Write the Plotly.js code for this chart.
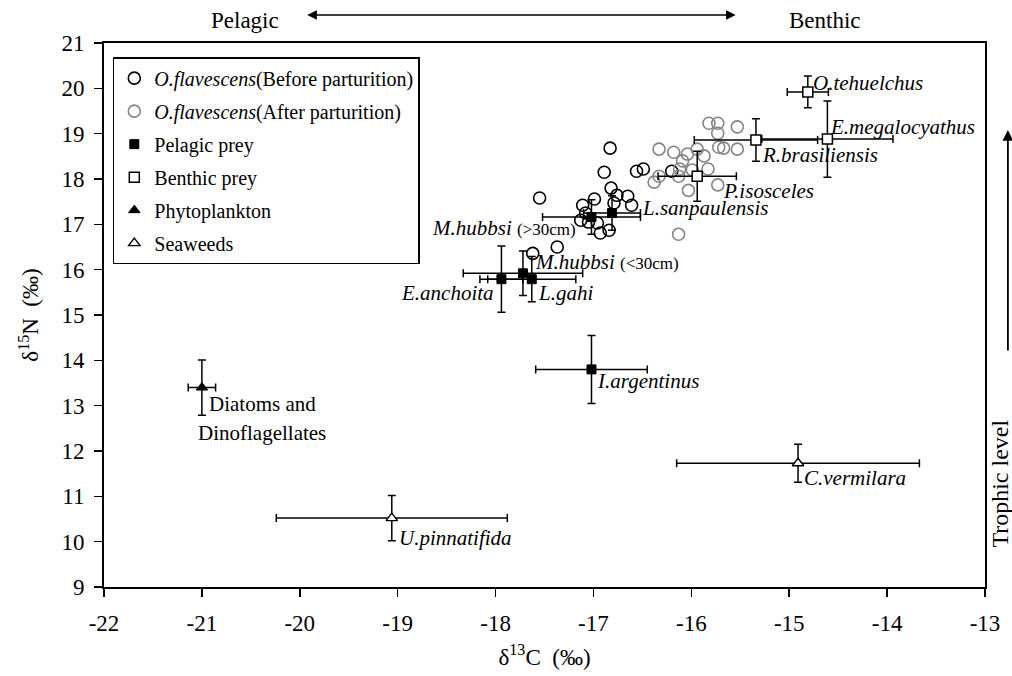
<!DOCTYPE html>
<html>
<head>
<meta charset="utf-8">
<script src="https://cdn.plot.ly/plotly-3.0.1.min.js"></script>
<style>html,body{margin:0;padding:0;background:#fff;}#chart{width:1012px;height:676px;}</style>
</head>
<body>
<div id="chart"></div>
<script>
// ---- data ----
var beforeX = [-16.83,-16.89,-16.56,-16.49,-16.20,-17.55,-16.82,-16.76,-16.65,-16.61,-17.11,-16.99,-16.79,-17.08,-17.13,-17.05,-16.96,-16.93,-16.84,-17.37,-17.62];
var beforeY = [18.68,18.15,18.17,18.22,18.17,17.58,17.80,17.64,17.62,17.42,17.42,17.56,17.47,17.25,17.09,17.05,17.03,16.81,16.87,16.50,16.36];

var afterX = [-15.82,-15.73,-15.73,-15.53,-15.72,-15.67,-15.53,-16.33,-16.18,-16.04,-16.09,-15.94,-15.87,-15.83,-15.99,-16.38,-16.33,-16.13,-16.12,-16.03,-15.73,-16.13];
var afterY = [19.23,19.23,19.01,19.15,18.70,18.68,18.66,18.66,18.59,18.55,18.40,18.66,18.51,18.22,18.20,17.93,18.06,18.06,18.22,17.75,17.87,16.78];

var pelagicNames = ["M.hubbsi (>30cm)","L.sanpaulensis","M.hubbsi (<30cm)","E.anchoita","L.gahi","I.argentinus"];
var pelagicX     = [-17.02,-16.81,-17.72,-17.94,-17.63,-17.02];
var pelagicY     = [17.16,17.25,15.92,15.79,15.79,13.80];
var pelagicXerr  = [0.50,0.29,0.61,0.22,0.45,0.57];
var pelagicYerr  = [0.38,0.38,0.49,0.73,0.50,0.75];

var benthicNames = ["O.tehuelchus","E.megalocyathus","R.brasiliensis","P.isosceles"];
var benthicX     = [-14.81,-14.61,-15.34,-15.94];
var benthicY     = [19.92,18.88,18.86,18.06];
var benthicXerr  = [0.21,0.67,0.63,0.40];
var benthicYerr  = [0.35,0.84,0.47,0.55];

var phytoNames = ["Diatoms and", "Dinoflagellates"];
var phytoX     = [-21.00];
var phytoY     = [13.40];
var phytoXerr  = [0.14];
var phytoYerr  = [0.61];

var seaweedNames = ["U.pinnatifida","C.vermilara"];
var seaweedX     = [-19.06,-14.91];
var seaweedY     = [10.52,11.73];
var seaweedXerr  = [1.18,1.24];
var seaweedYerr  = [0.50,0.42];

var xTickVals = [-22,-21,-20,-19,-18,-17,-16,-15,-14,-13];
var xTickText = ["-22","-21","-20","-19","-18","-17","-16","-15","-14","-13"];
var yTickVals = [9,10,11,12,13,14,15,16,17,18,19,20,21];

var legendNames = ["<i>O.flavescens</i>(Before parturition)","<i>O.flavescens</i>(After parturition)","Pelagic prey","Benthic prey","Phytoplankton","Seaweeds"];

// ---- chart ----
var FONT = "Liberation Serif";
function eb(arr){ return {type:'data', array:arr, visible:true, color:'#000', thickness:1.5, width:4}; }

var traces = [
  {x:beforeX, y:beforeY, type:'scatter', mode:'markers', name:legendNames[0], legendgroup:'a',
   marker:{symbol:'circle-open', size:12, color:'#000', line:{width:1.6, color:'#000'}}},
  {x:afterX, y:afterY, type:'scatter', mode:'markers', name:legendNames[1], legendgroup:'b',
   marker:{symbol:'circle-open', size:12, color:'#858585', line:{width:1.6, color:'#858585'}}},
  {x:pelagicX, y:pelagicY, type:'scatter', mode:'markers', name:legendNames[2], legendgroup:'c',
   error_x:eb(pelagicXerr), error_y:eb(pelagicYerr),
   marker:{symbol:'square', size:9, color:'#000', line:{width:1, color:'#000'}}},
  {x:benthicX, y:benthicY, type:'scatter', mode:'markers', name:legendNames[3], legendgroup:'d',
   error_x:eb(benthicXerr), error_y:eb(benthicYerr),
   marker:{symbol:'square', size:10, color:'#fff', line:{width:1.5, color:'#000'}}},
  {x:phytoX, y:phytoY, type:'scatter', mode:'markers', name:legendNames[4], legendgroup:'e',
   error_x:eb(phytoXerr), error_y:eb(phytoYerr),
   marker:{symbol:'triangle-up', size:10, color:'#000', line:{width:1, color:'#000'}}},
  {x:seaweedX, y:seaweedY, type:'scatter', mode:'markers', name:legendNames[5], legendgroup:'f',
   error_x:eb(seaweedXerr), error_y:eb(seaweedYerr),
   marker:{symbol:'triangle-up', size:10, color:'#fff', line:{width:1.4, color:'#000'}}}
];

// label annotations anchored to data points with pixel offsets
var ann = [];
function lab(text, x, y, xanchor, dx, dy, italic){
  ann.push({x:x, y:y, xref:'x', yref:'y', text: italic ? '<i>'+text+'</i>' : text, showarrow:false,
    xanchor:xanchor, yanchor:'middle', xshift:dx, yshift:dy,
    font:{family:FONT, size:21, color:'#000'}});
}
var pOff = [['right',-13,-11],['left',28,5],['left',10,11],['right',-5,-14],['left',4,-14],['left',4,-12]];
for (var i=0;i<pelagicNames.length;i++){
  var nm = pelagicNames[i];
  var t;
  if (nm.indexOf('(')>=0){
    var parts = nm.split(' ');
    t = '<i>'+parts[0]+'</i> <span style="font-size:17px">'+parts[1].replace('>','&gt;').replace('<','&lt;')+'</span>';
  } else { t = '<i>'+nm+'</i>'; }
  ann.push({x:pelagicX[i], y:pelagicY[i], xref:'x', yref:'y', text:t, showarrow:false,
    xanchor:pOff[i][0], yanchor:'middle', xshift:pOff[i][1], yshift:pOff[i][2],
    font:{family:FONT, size:21, color:'#000'}});
}
var bOff = [['left',3,9],['left',1,12],['left',4,-15],['left',24,-15]];
for (var j=0;j<benthicNames.length;j++) lab(benthicNames[j], benthicX[j], benthicY[j], bOff[j][0], bOff[j][1], bOff[j][2], true);
lab(phytoNames[0], phytoX[0], phytoY[0], 'left', 5, -16, false);
lab(phytoNames[1], phytoX[0], phytoY[0], 'left', -6, -45, false);
var sOff = [['left',5,-20],['left',4,-15]];
for (var k=0;k<seaweedNames.length;k++) lab(seaweedNames[k], seaweedX[k], seaweedY[k], sOff[k][0], sOff[k][1], sOff[k][2], true);

// outer annotations
ann.push({xref:'paper', yref:'paper', x:0.16, y:1.042, text:'Pelagic', showarrow:false, xanchor:'center', yanchor:'middle', font:{family:FONT, size:23, color:'#000'}});
ann.push({xref:'paper', yref:'paper', x:0.818, y:1.042, text:'Benthic', showarrow:false, xanchor:'center', yanchor:'middle', font:{family:FONT, size:23, color:'#000'}});
ann.push({xref:'paper', yref:'paper', x:0.717, y:1.0515, axref:'paper', ayref:'paper', ax:0.229, ay:1.0515, text:'', showarrow:true,
  arrowhead:2, startarrowhead:2, arrowside:'end+start', arrowsize:1.2, arrowwidth:1.6, arrowcolor:'#000'});
ann.push({xref:'paper', yref:'paper', x:1.026, y:0.84, axref:'paper', ayref:'paper', ax:1.026, ay:0.432, text:'', showarrow:true,
  arrowhead:2, arrowsize:1.2, arrowwidth:1.8, arrowcolor:'#000'});
ann.push({xref:'paper', yref:'paper', x:1.017, y:0.19, text:'Trophic level', showarrow:false, textangle:-90, xanchor:'center', yanchor:'middle', font:{family:FONT, size:24, color:'#000'}});

var layout = {
  width:1012, height:676,
  margin:{l:104, r:27, t:43, b:89, pad:0},
  paper_bgcolor:'#fff', plot_bgcolor:'#fff',
  font:{family:FONT, color:'#000', size:20},
  showlegend:true,
  legend:{x:0.01, y:0.974, xanchor:'left', yanchor:'top', bgcolor:'#fff', bordercolor:'#000', borderwidth:1.5,
    font:{family:FONT, size:20, color:'#000'}, traceorder:'grouped', tracegroupgap:4, itemwidth:30},
  xaxis:{range:[-22,-13], tickmode:'array', tickvals:xTickVals, ticktext:xTickText, ticks:'outside', ticklen:8, tickwidth:1.5, tickcolor:'#000',
    ticklabelstandoff:6,
    showline:true, linecolor:'#000', linewidth:2, mirror:true, showgrid:false, zeroline:false,
    tickfont:{family:FONT, size:23, color:'#000'},
    title:{text:'δ<sup>13</sup>C  (‰)', font:{family:FONT, size:23, color:'#000'}, standoff:14}},
  yaxis:{range:[9,21], tickmode:'array', tickvals:yTickVals, ticks:'outside', ticklen:8, tickwidth:1.5, tickcolor:'#000',
    ticklabelstandoff:5,
    showline:true, linecolor:'#000', linewidth:2, mirror:true, showgrid:false, zeroline:false,
    tickfont:{family:FONT, size:23, color:'#000'},
    title:{text:'δ<sup>15</sup>N  (‰)', font:{family:FONT, size:23, color:'#000'}, standoff:16}},
  annotations: ann
};

Plotly.newPlot('chart', traces, layout, {displayModeBar:false, staticPlot:true});
</script>
</body>
</html>
